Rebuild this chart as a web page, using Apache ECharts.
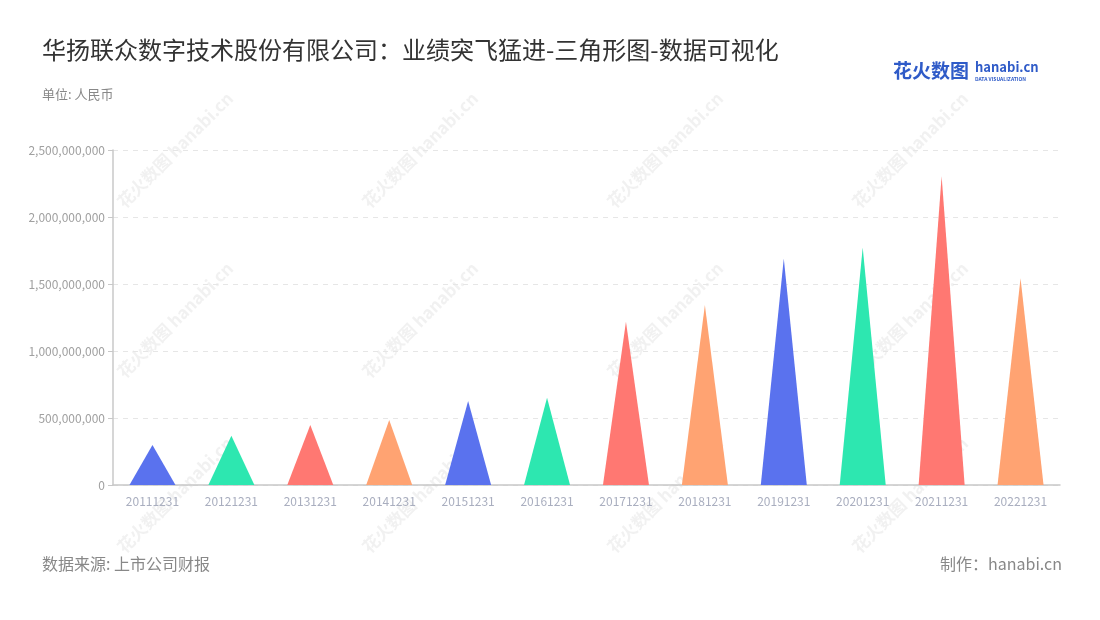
<!DOCTYPE html>
<html>
<head>
<meta charset="utf-8">
<script src="https://cdn.jsdelivr.net/npm/echarts@6/dist/echarts.min.js"></script>
<style>html,body{margin:0;padding:0;background:#fff}#c{width:1100px;height:620px}</style>
</head>
<body>
<div id="c"></div>
<script>
const categories = ['20111231','20121231','20131231','20141231','20151231','20161231','20171231','20181231','20191231','20201231','20211231','20221231'];
const values = [298000000, 368000000, 448000000, 485000000, 627000000, 651000000, 1218000000, 1343000000, 1691000000, 1773000000, 2305000000, 1542000000];
const palette = ['#5a72ee', '#2de7b0', '#ff7872', '#ffa372'];

const chart = echarts.init(document.getElementById('c'));
const font = '"Noto Sans CJK SC", "Noto Sans", sans-serif';

const watermarks = [];
const wmPos = [[175,150],[420,150],[665,150],[910,150],[175,320],[420,320],[665,320],[910,320],[175,495],[420,495],[665,495],[910,495]];
wmPos.forEach(p => {
  watermarks.push({
    type: 'text', x: p[0], y: p[1], rotation: Math.PI / 4, silent: true, z: 0,
    style: { text: '花火数图 hanabi.cn', fill: 'rgba(205,205,205,0.28)', font: 'bold 17px ' + font, textAlign: 'center', textVerticalAlign: 'middle' }
  });
});

chart.setOption({
  backgroundColor: '#fff',
  textStyle: { fontFamily: font },
  grid: { left: 113, right: 40, top: 150, bottom: 135 },
  graphic: watermarks.concat([
    { type: 'text', left: 42, top: 38, style: { text: '华扬联众数字技术股份有限公司：业绩突飞猛进-三角形图-数据可视化', fill: '#333', font: '24px ' + font } },
    { type: 'text', left: 42, top: 88, style: { text: '单位: 人民币', fill: '#888', font: '13px ' + font } },
    { type: 'text', left: 42, top: 556, style: { text: '数据来源: 上市公司财报', fill: '#888', font: '16px ' + font } },
    { type: 'text', right: 38, top: 556, style: { text: '制作：hanabi.cn', fill: '#888', font: '16px ' + font } },
    { type: 'text', left: 893, top: 61, style: { text: '花火数图', fill: '#2f5bc8', font: 'bold 19px ' + font } },
    { type: 'text', left: 975, top: 61, style: { text: 'hanabi.cn', fill: '#2f5bc8', font: 'bold 13px ' + font } },
    { type: 'text', left: 975, top: 77, style: { text: 'DATA VISUALIZATION', fill: '#2f5bc8', font: 'bold 5px ' + font } }
  ]),
  xAxis: {
    type: 'category',
    data: categories,
    axisLine: { lineStyle: { color: '#c8c8c8', width: 1.5 } },
    axisTick: { alignWithLabel: true, lineStyle: { color: '#c8c8c8' } },
    axisLabel: { color: '#a9aebf', fontSize: 12, margin: 10 }
  },
  yAxis: {
    type: 'value',
    min: 0, max: 2500000000, interval: 500000000,
    axisLine: { show: true, lineStyle: { color: '#c8c8c8', width: 1.5 } },
    axisTick: { show: true, lineStyle: { color: '#c8c8c8' } },
    axisLabel: { color: '#a0a0a0', fontSize: 12, formatter: v => v.toLocaleString('en-US') },
    splitLine: { lineStyle: { color: '#e6e6e6', type: [5, 5] } }
  },
  series: [{
    type: 'pictorialBar',
    symbol: 'triangle',
    symbolSize: [46, '100%'],
    z: 3,
    data: values.map((v, i) => ({ value: v, itemStyle: { color: palette[i % palette.length] } }))
  }]
});
</script>
</body>
</html>
